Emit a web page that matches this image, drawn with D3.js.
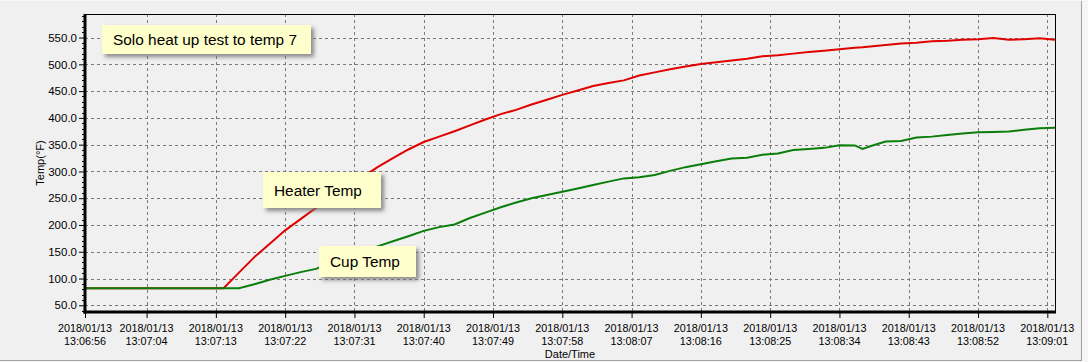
<!DOCTYPE html>
<html lang="en">
<head>
<meta charset="UTF-8" />
<title>Solo heat up test</title>
<style>
  body { margin: 0; background: #f7f7f7; }
  svg { display: block; }
  text { font-family: Arial, "Liberation Sans", sans-serif; fill: #000; }
</style>
</head>
<body>
<div id="chart"></div>
<script src="https://cdn.jsdelivr.net/npm/d3@7/dist/d3.min.js"></script>
<script>
// sample times (all on 2018/01/13)
var times = ["13:06:56","13:07:13","13:07:14","13:07:16","13:07:18","13:07:20","13:07:22","13:07:24",
  "13:07:26","13:07:28","13:07:30","13:07:32","13:07:34","13:07:36","13:07:38","13:07:40","13:07:42",
  "13:07:44","13:07:46","13:07:48","13:07:50","13:07:52","13:07:54","13:07:56","13:07:58","13:08:00",
  "13:08:02","13:08:04","13:08:06","13:08:08","13:08:10","13:08:12","13:08:14","13:08:16","13:08:18",
  "13:08:20","13:08:22","13:08:24","13:08:26","13:08:28","13:08:30","13:08:32","13:08:34","13:08:36",
  "13:08:37","13:08:38","13:08:40","13:08:42","13:08:44","13:08:46","13:08:48","13:08:50","13:08:52",
  "13:08:54","13:08:56","13:08:58","13:09:00","13:09:02"];

// Heater Temp (red)
var heater = [82,82,82,111,140,165,190,211,
  232,251,270,289,308,325,341,355,365,
  375,386,397,407,415,425,434,443,451,
  459.5,465,470,479,485,491,496,500.5,504,
  507,510.5,515,517,520,523,525.5,528,531,
  532,533.5,536,539,540.5,543,544,545.7,547,
  549,546,547,548.5,545.7];

// Cup Temp (green)
var cup = [82,82,82,82,89.3,97.6,105,112,
  118,130,139,150,160,169.5,179,189,196,
  201,213,223,233,242,250,256,262,268,
  274.5,281,287,289,293.5,301,308,313.5,319,
  324,325.5,331,333.5,340,342,344,349,348.5,
  342,347,356,357,363.5,365,368,371,373,
  373.5,374.5,378,380.5,381.6];

var xTickTimes = ["13:06:56","13:07:04","13:07:13","13:07:22","13:07:31","13:07:40","13:07:49",
  "13:07:58","13:08:07","13:08:16","13:08:25","13:08:34","13:08:43","13:08:52","13:09:01"];
var xTickDate = "2018/01/13";
var yTicks = [50,100,150,200,250,300,350,400,450,500,550];

var w = 1088, h = 362;
var pLeft = 85, pRight = 1055, pTop = 14, pBottom = 312;

var parseTime = d3.timeParse("%Y/%m/%d %H:%M:%S");
function toDate(s) { return parseTime(xTickDate + " " + s); }

var heaterData = times.map(function(t, i) { return { t: toDate(t), v: heater[i] }; });
var cupData = times.map(function(t, i) { return { t: toDate(t), v: cup[i] }; });

var svg = d3.select("#chart").append("svg")
  .attr("width", w)
  .attr("height", h);

var defs = svg.append("defs");
var f = defs.append("filter").attr("id", "shadow")
  .attr("x", "-10%").attr("y", "-20%").attr("width", "130%").attr("height", "160%");
f.append("feDropShadow")
  .attr("dx", 3).attr("dy", 3).attr("stdDeviation", 2)
  .attr("flood-color", "#707070").attr("flood-opacity", 0.8);

// panel
svg.append("rect").attr("x", 0).attr("y", 1).attr("width", 1082).attr("height", 360)
  .attr("fill", "#f0f0f0");
svg.append("line").attr("x1", 1081.5).attr("x2", 1081.5).attr("y1", 1).attr("y2", 361)
  .attr("stroke", "#a0a0a0");
svg.append("line").attr("x1", 0).attr("x2", 1082).attr("y1", 360.5).attr("y2", 360.5)
  .attr("stroke", "#a0a0a0");

var xScale = d3.scaleTime()
  .domain([toDate("13:06:56"), toDate("13:09:02")])
  .range([pLeft, pRight]);

var yScale = d3.scaleLinear()
  .domain([37.5, 594])
  .range([pBottom, pTop]);

// grid
svg.append("g").selectAll("line")
  .data(yTicks).enter().append("line")
  .attr("x1", pLeft).attr("x2", pRight)
  .attr("y1", function(d) { return Math.round(yScale(d)) + 0.5; })
  .attr("y2", function(d) { return Math.round(yScale(d)) + 0.5; })
  .attr("stroke", "#7a7a7a").attr("stroke-dasharray", "3,3");

svg.append("g").selectAll("line")
  .data(xTickTimes.slice(1)).enter().append("line")
  .attr("x1", function(d) { return Math.round(xScale(toDate(d))) + 0.5; })
  .attr("x2", function(d) { return Math.round(xScale(toDate(d))) + 0.5; })
  .attr("y1", pTop).attr("y2", pBottom)
  .attr("stroke", "#7a7a7a").attr("stroke-dasharray", "3,3");

// frame top / right
svg.append("line").attr("x1", pLeft).attr("x2", pRight + 0.5).attr("y1", pTop + 0.5).attr("y2", pTop + 0.5)
  .attr("stroke", "#000");
svg.append("line").attr("x1", pRight + 0.5).attr("x2", pRight + 0.5).attr("y1", pTop).attr("y2", pBottom)
  .attr("stroke", "#000");

// lines
var line = d3.line()
  .x(function(d) { return xScale(d.t); })
  .y(function(d) { return yScale(d.v); });

svg.append("path").datum(heaterData)
  .attr("d", line).attr("fill", "none")
  .attr("stroke", "#e00000").attr("stroke-width", 2);

svg.append("path").datum(cupData)
  .attr("d", line).attr("fill", "none")
  .attr("stroke", "#0a7d0a").attr("stroke-width", 2);

// y axis
var yAxis = d3.axisLeft(yScale)
  .tickValues(yTicks)
  .tickFormat(d3.format(".1f"))
  .tickSize(6).tickPadding(2);
var yg = svg.append("g")
  .attr("transform", "translate(" + pLeft + ",0)")
  .call(yAxis);
yg.select(".domain").remove();
yg.selectAll("text").style("font-size", "11.5px").style("font-family", "Arial, 'Liberation Sans', sans-serif");

var yMinor = d3.range(40, 591, 10).filter(function(d) { return d % 50 !== 0; });
svg.append("g").selectAll("line")
  .data(yMinor).enter().append("line")
  .attr("x1", pLeft - 3).attr("x2", pLeft)
  .attr("y1", function(d) { return Math.round(yScale(d)) + 0.5; })
  .attr("y2", function(d) { return Math.round(yScale(d)) + 0.5; })
  .attr("stroke", "#000");

// x axis
var xAxis = d3.axisBottom(xScale)
  .tickValues(xTickTimes.map(toDate))
  .tickFormat("")
  .tickSize(6);
var xg = svg.append("g")
  .attr("transform", "translate(0," + pBottom + ")")
  .call(xAxis);
xg.select(".domain").remove();

var xl = svg.append("g").selectAll("text")
  .data(xTickTimes).enter().append("text")
  .attr("x", function(d) { return xScale(toDate(d)); })
  .attr("y", 331.5)
  .attr("text-anchor", "middle")
  .style("font-size", "10.8px");
xl.append("tspan").attr("x", function(d) { return xScale(toDate(d)); }).text(xTickDate);
xl.append("tspan").attr("x", function(d) { return xScale(toDate(d)); }).attr("dy", 13).text(function(d) { return d; });

// thick axis lines
svg.append("line").attr("x1", pLeft).attr("x2", pLeft).attr("y1", pTop).attr("y2", pBottom + 1.5)
  .attr("stroke", "#000").attr("stroke-width", 3);
svg.append("line").attr("x1", pLeft - 1.5).attr("x2", pRight + 1).attr("y1", pBottom).attr("y2", pBottom)
  .attr("stroke", "#000").attr("stroke-width", 3);

// axis titles
svg.append("text")
  .attr("x", (pLeft + pRight) / 2).attr("y", 358)
  .attr("text-anchor", "middle")
  .style("font-size", "11px")
  .text("Date/Time");

svg.append("text")
  .attr("transform", "translate(44," + (pTop + pBottom) / 2 + ") rotate(-90)")
  .attr("text-anchor", "middle")
  .style("font-size", "11px")
  .text("Temp(\u00b0F)");

// annotation boxes
var notes = [
  { text: "Solo heat up test to temp 7", x: 102, y: 25, w: 209, h: 29 },
  { text: "Heater Temp", x: 263, y: 172, w: 118, h: 36 },
  { text: "Cup Temp", x: 319, y: 246, w: 97, h: 31 }
];
var ng = svg.append("g").selectAll("g")
  .data(notes).enter().append("g");
ng.append("rect")
  .attr("x", function(d) { return d.x; })
  .attr("y", function(d) { return d.y; })
  .attr("width", function(d) { return d.w; })
  .attr("height", function(d) { return d.h; })
  .attr("fill", "#ffffcc")
  .attr("filter", "url(#shadow)");
ng.append("text")
  .attr("x", function(d) { return d.x + 11; })
  .attr("y", function(d) { return d.y + d.h / 2 + 5.5; })
  .style("font-size", "15.4px")
  .text(function(d) { return d.text; });
</script>
</body>
</html>
